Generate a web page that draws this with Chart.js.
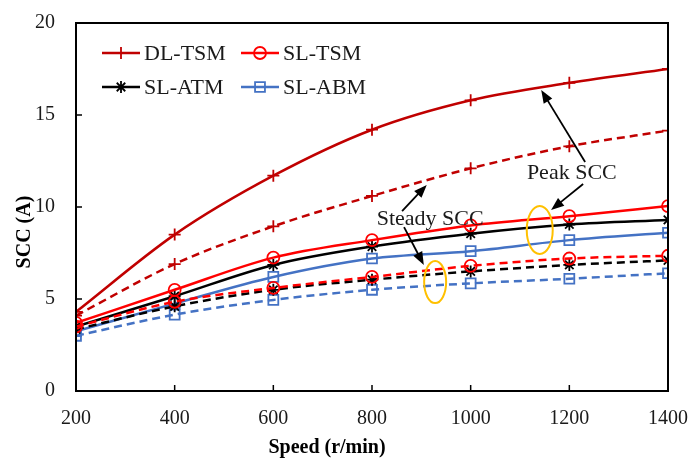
<!DOCTYPE html>
<html lang="en">
<head>
    <meta charset="UTF-8">
    <title>SCC vs speed</title>
    <script src="https://cdn.jsdelivr.net/npm/chart.js"></script>
    <style>
        body {
            margin: 0;
            padding: 0;
            background: #fff;
        }
        #wrap {
            width: 692px;
            height: 465px;
        }
    </style>
</head>
<body>
    <div id="wrap"><canvas id="sccChart"></canvas></div>

    <script>
        // Daten
        const speed = [200, 400, 600, 800, 1000, 1200, 1400];
        const yTicks = [0, 5, 10, 15, 20];

        // Peak SCC (durchgezogen)
        const dlTsmPeak = [4.3, 8.5, 11.7, 14.2, 15.8, 16.75, 17.5];
        const slTsmPeak = [3.7, 5.5, 7.25, 8.2, 9.0, 9.5, 10.05];
        const slAtmPeak = [3.5, 5.15, 6.85, 7.85, 8.55, 9.05, 9.3];
        const slAbmPeak = [3.25, 4.75, 6.2, 7.2, 7.6, 8.2, 8.6];

        // Steady SCC (gestrichelt)
        const dlTsmSteady = [4.1, 6.9, 8.95, 10.6, 12.1, 13.3, 14.15];
        const slTsmSteady = [3.5, 4.85, 5.6, 6.2, 6.8, 7.2, 7.35];
        const slAtmSteady = [3.35, 4.6, 5.5, 6.05, 6.5, 6.85, 7.1];
        const slAbmSteady = [3.0, 4.15, 4.95, 5.5, 5.85, 6.1, 6.4];

        const seriesNames = ['DL-TSM', 'SL-TSM', 'SL-ATM', 'SL-ABM'];

        const FONT = '"Liberation Serif", "Times New Roman", serif';

        const styles = {
            'DL-TSM': { color: '#C00000', pointStyle: 'cross', radius: 6 },
            'SL-TSM': { color: '#FF0000', pointStyle: 'circle', radius: 6 },
            'SL-ATM': { color: '#000000', pointStyle: 'star', radius: 6 },
            'SL-ABM': { color: '#4472C4', pointStyle: 'rect', radius: 7 }
        };

        function toPoints(values) {
            return values.map((v, i) => ({ x: speed[i], y: v }));
        }

        function makeDataset(name, values, dashed) {
            const s = styles[name];
            return {
                label: name + (dashed ? ' steady' : ''),
                data: toPoints(values),
                borderColor: s.color,
                borderWidth: 2.5,
                borderDash: dashed ? [8, 5] : [],
                pointStyle: s.pointStyle,
                pointRadius: s.radius,
                pointBorderColor: s.color,
                pointBackgroundColor: 'rgba(255,255,255,0)',
                pointBorderWidth: 1.8,
                cubicInterpolationMode: 'monotone',
                fill: false
            };
        }

        // Anmerkungen in Datenkoordinaten
        const labelsText = [
            { text: 'Peak SCC', x: 1205, y: 11.85 },
            { text: 'Steady SCC', x: 918, y: 9.35 }
        ];
        const arrows = [
            { from: [1232, 12.45], to: [1143, 16.36] },
            { from: [1228, 11.25], to: [1163, 9.84] },
            { from: [861, 9.78], to: [911, 11.2] },
            { from: [865, 8.91], to: [905, 6.85] }
        ];
        const ellipses = [
            { x: 1140, y: 8.75, rx: 13, ry: 24 },
            { x: 928, y: 5.92, rx: 11, ry: 21 }
        ];

        function drawArrow(ctx, x1, y1, x2, y2) {
            const ang = Math.atan2(y2 - y1, x2 - x1);
            const len = 13, half = 5;
            ctx.beginPath();
            ctx.moveTo(x1, y1);
            ctx.lineTo(x2 - Math.cos(ang) * len * 0.8, y2 - Math.sin(ang) * len * 0.8);
            ctx.stroke();
            ctx.beginPath();
            ctx.moveTo(x2, y2);
            ctx.lineTo(x2 - Math.cos(ang) * len - Math.sin(ang) * half, y2 - Math.sin(ang) * len + Math.cos(ang) * half);
            ctx.lineTo(x2 - Math.cos(ang) * len + Math.sin(ang) * half, y2 - Math.sin(ang) * len - Math.cos(ang) * half);
            ctx.closePath();
            ctx.fill();
        }

        const decorPlugin = {
            id: 'decor',
            afterDatasetsDraw(chart) {
                const ctx = chart.ctx;
                const xs = chart.scales.x, ys = chart.scales.y;
                const a = chart.chartArea;
                ctx.save();

                // Rahmen
                ctx.strokeStyle = '#000';
                ctx.lineWidth = 2;
                ctx.strokeRect(a.left, a.top, a.right - a.left, a.bottom - a.top);

                // Ticks nach innen
                ctx.lineWidth = 1.5;
                ctx.beginPath();
                yTicks.forEach(v => {
                    const py = ys.getPixelForValue(v);
                    ctx.moveTo(a.left, py);
                    ctx.lineTo(a.left + 6, py);
                });
                speed.forEach(v => {
                    const px = xs.getPixelForValue(v);
                    ctx.moveTo(px, a.bottom);
                    ctx.lineTo(px, a.bottom - 6);
                });
                ctx.stroke();

                // Achsentitel
                ctx.fillStyle = '#000';
                ctx.font = 'bold 20px ' + FONT;
                ctx.textAlign = 'center';
                ctx.textBaseline = 'middle';
                ctx.fillText('Speed (r/min)', a.left + 251, a.bottom + 57);
                ctx.save();
                ctx.translate(25, a.top + 209);
                ctx.rotate(-Math.PI / 2);
                ctx.fillText('SCC (A)', 0, 0);
                ctx.restore();

                // Ellipsen
                ctx.strokeStyle = '#FFC000';
                ctx.lineWidth = 2;
                ellipses.forEach(e => {
                    ctx.beginPath();
                    ctx.ellipse(xs.getPixelForValue(e.x), ys.getPixelForValue(e.y), e.rx, e.ry, 0, 0, Math.PI * 2);
                    ctx.stroke();
                });

                // Pfeile
                ctx.strokeStyle = '#000';
                ctx.fillStyle = '#000';
                ctx.lineWidth = 1.8;
                arrows.forEach(ar => {
                    drawArrow(ctx,
                        xs.getPixelForValue(ar.from[0]), ys.getPixelForValue(ar.from[1]),
                        xs.getPixelForValue(ar.to[0]), ys.getPixelForValue(ar.to[1]));
                });

                // Beschriftungen
                ctx.font = '22px ' + FONT;
                ctx.fillStyle = '#1a1a1a';
                labelsText.forEach(l => {
                    ctx.fillText(l.text, xs.getPixelForValue(l.x), ys.getPixelForValue(l.y));
                });

                // Legende (oben links im Plotbereich)
                ctx.textAlign = 'left';
                seriesNames.forEach((name, i) => {
                    const s = styles[name];
                    const col = i % 2, row = Math.floor(i / 2);
                    const x0 = a.left + 26 + col * 139;
                    const y0 = a.top + 30 + row * 34;
                    ctx.strokeStyle = s.color;
                    ctx.lineWidth = 2.5;
                    ctx.setLineDash([]);
                    ctx.beginPath();
                    ctx.moveTo(x0, y0);
                    ctx.lineTo(x0 + 38, y0);
                    ctx.stroke();
                    ctx.lineWidth = 1.8;
                    ctx.fillStyle = 'rgba(255,255,255,0)';
                    Chart.helpers.drawPoint(ctx, {
                        pointStyle: s.pointStyle,
                        radius: s.radius,
                        borderWidth: 1.8,
                        rotation: 0
                    }, x0 + 19, y0);
                    ctx.fillStyle = '#1a1a1a';
                    ctx.fillText(name, x0 + 42, y0 + 1);
                });

                ctx.restore();
            }
        };

        const ctx = document.getElementById('sccChart').getContext('2d');
        const sccChart = new Chart(ctx, {
            type: 'line',
            data: {
                datasets: [
                    makeDataset('DL-TSM', dlTsmPeak, false),
                    makeDataset('DL-TSM', dlTsmSteady, true),
                    makeDataset('SL-TSM', slTsmPeak, false),
                    makeDataset('SL-TSM', slTsmSteady, true),
                    makeDataset('SL-ATM', slAtmPeak, false),
                    makeDataset('SL-ATM', slAtmSteady, true),
                    makeDataset('SL-ABM', slAbmPeak, false),
                    makeDataset('SL-ABM', slAbmSteady, true)
                ]
            },
            options: {
                responsive: true,
                maintainAspectRatio: false,
                animation: false,
                layout: {
                    padding: { top: 23, right: 24, left: 0, bottom: 0 }
                },
                plugins: {
                    legend: { display: false },
                    tooltip: { enabled: false }
                },
                scales: {
                    x: {
                        type: 'linear',
                        min: 200,
                        max: 1400,
                        afterFit: function(scale) {
                            scale.height = 74;
                            scale.paddingLeft = 0;
                            scale.paddingRight = 0;
                        },
                        grid: { display: false, drawTicks: false },
                        border: { display: false },
                        ticks: {
                            stepSize: 200,
                            padding: 16,
                            color: '#1a1a1a',
                            font: { family: FONT, size: 20 },
                            callback: function(value) { return String(value); }
                        }
                    },
                    y: {
                        min: 0,
                        max: 20,
                        afterFit: function(scale) {
                            scale.width = 76;
                            scale.paddingTop = 0;
                            scale.paddingBottom = 0;
                        },
                        grid: { display: false, drawTicks: false },
                        border: { display: false },
                        ticks: {
                            stepSize: 5,
                            padding: 21,
                            color: '#1a1a1a',
                            font: { family: FONT, size: 20 }
                        }
                    }
                }
            },
            plugins: [decorPlugin]
        });
    </script>
</body>
</html>
